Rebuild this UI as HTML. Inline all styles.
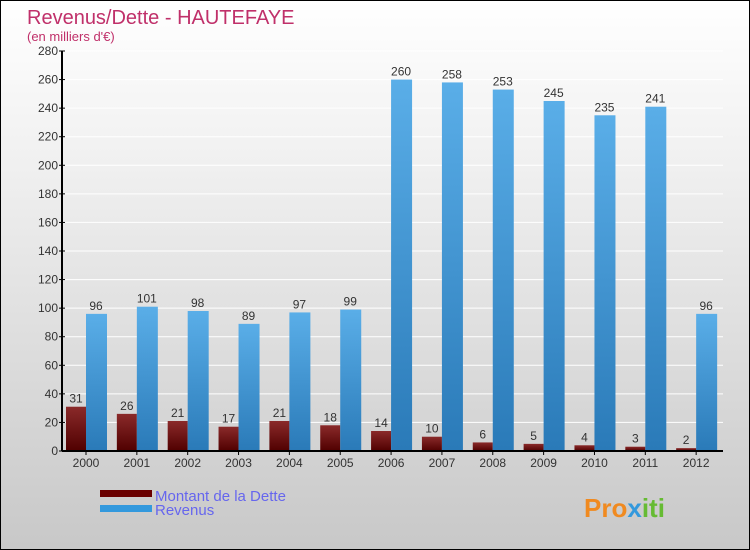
<!DOCTYPE html>
<html><head><meta charset="utf-8"><style>
body{margin:0}
#c{position:relative;width:748px;height:548px;border:1px solid #000;background:linear-gradient(#ffffff,#f0f0f0 30%,#c8c8c8);font-family:"Liberation Sans",sans-serif;overflow:hidden}
</style></head><body>
<div id="c">
<svg id="s" width="748" height="548" xmlns="http://www.w3.org/2000/svg">
<defs>
<linearGradient id="gd" x1="0" y1="0" x2="0" y2="1"><stop offset="0" stop-color="#8a2a2a"/><stop offset="1" stop-color="#500000"/></linearGradient>
<linearGradient id="gr" x1="0" y1="0" x2="0" y2="1"><stop offset="0" stop-color="#5aaee8"/><stop offset="1" stop-color="#2a7ab8"/></linearGradient>
</defs>
<text x="26" y="23" font-size="20" fill="#c0306a">Revenus/Dette - HAUTEFAYE</text>
<text x="26" y="40" font-size="13" fill="#c0306a">(en milliers d'€)</text>
<g id="plot"></g>
<rect x="99" y="489" width="52" height="7" fill="#6a0000"/>
<rect x="99" y="504" width="52" height="7" fill="#3399dd"/>
<text x="154" y="500" font-size="15" fill="#6666ee">Montant de la Dette</text>
<text x="154" y="514" font-size="15" fill="#6666ee">Revenus</text>
<text x="583" y="516" font-size="26" font-weight="bold" fill="#f08a20">Pro<tspan fill="#3399dd">x</tspan><tspan fill="#66bb33">iti</tspan></text>
</svg>
</div>
<script>
const years=["2000","2001","2002","2003","2004","2005","2006","2007","2008","2009","2010","2011","2012"];
const dette=[31,26,21,17,21,18,14,10,6,5,4,3,2];
const revenus=[96,101,98,89,97,99,260,258,253,245,235,241,96];
const ticks=[0,20,40,60,80,100,120,140,160,180,200,220,240,260,280];
const NS="http://www.w3.org/2000/svg";
const g=document.getElementById('plot');
const x0=61,x1=722,y0=450,y1=50,max=280;
const y=v=>y0-(v/max)*(y0-y1);
const step=(x1-x0)/years.length;
function mk(t,a,txt){const e=document.createElementNS(NS,t);for(const k in a)e.setAttribute(k,a[k]);if(txt!==undefined)e.textContent=txt;g.appendChild(e);return e;}
ticks.forEach(t=>{
 if(t>0){const l=mk('line',{x1:x0,x2:x1,y1:y(t),y2:y(t),stroke:'#ffffff','stroke-width':1});
 
 }
 const tk=mk('line',{x1:x0-3,x2:x0+3,y1:y(t),y2:y(t),stroke:'#000'});
 
 
 const tl=mk('text',{x:x0-4,y:y(t)+4,'font-size':12,'text-anchor':'end',fill:'#333'},t);
 
 
});
years.forEach((yr,i)=>{
 const gx=x0+i*step+4;
 const b1=mk('rect',{x:gx,y:y(dette[i]),width:20,height:y0-y(dette[i]),fill:'url(#gd)'});
 
 
 const b2=mk('rect',{x:gx+20,y:y(revenus[i]),width:21,height:y0-y(revenus[i]),fill:'url(#gr)'});
 
 
 const l1=mk('text',{x:gx+10,y:y(dette[i])-4,'font-size':12,'text-anchor':'middle',fill:'#333'},dette[i]);
 
 
 const l2=mk('text',{x:gx+30,y:y(revenus[i])-4,'font-size':12,'text-anchor':'middle',fill:'#333'},revenus[i]);
 
 
 const xt=mk('line',{x1:gx+20,x2:gx+20,y1:y0,y2:y0+4,stroke:'#000'});
 
 
 const xl=mk('text',{x:gx+20,y:y0+16,'font-size':12,'text-anchor':'middle',fill:'#333'},yr);
 
 
});
const ax=mk('line',{x1:x0,x2:x0,y1:y1,y2:y0,stroke:'#000','stroke-width':2});


const bx=mk('line',{x1:x0,x2:x1,y1:y0,y2:y0,stroke:'#000','stroke-width':2});


</script>
</body></html>
